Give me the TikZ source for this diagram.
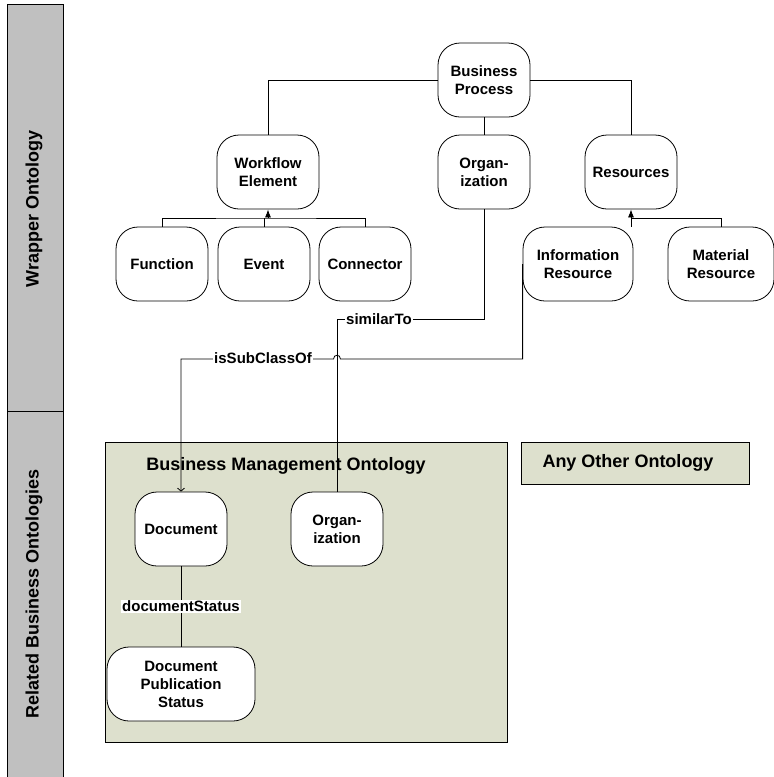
\documentclass[tikz,border=0pt]{standalone}
\usepackage{fontspec}
\setmainfont{Liberation Sans}
\usetikzlibrary{arrows.meta}

\definecolor{bandgray}{RGB}{192,192,192}
\definecolor{ontogreen}{RGB}{221,224,205}

\tikzset{
  concept/.style={draw, fill=white, rounded corners=22pt, minimum width=92pt,
    minimum height=74pt, align=center, inner sep=2pt,
    font=\fontsize{15}{18}\selectfont\bfseries},
  rel/.style={fill=white, inner sep=1pt, font=\fontsize{15}{18}\selectfont\bfseries},
  title/.style={font=\fontsize{18}{21}\selectfont\bfseries},
  isa/.style={-{Latex[length=8pt,width=6pt]}},
  uses/.style={-{Straight Barb[length=3pt,width=7pt]}},
}

\begin{document}
\begin{tikzpicture}[x=1pt, y=-1pt, line width=0.8pt]
    \useasboundingbox (0,0) rectangle (774,777);

    % Side bands
    \draw[fill=bandgray] (7,4) rectangle (63,790);
    \draw (7,411) -- (63,411);
    \node[title, rotate=90] (wraplbl) at (34,209) {Wrapper Ontology};
    \node[title, rotate=90] (rellbl) at (34,594) {Related Business Ontologies};

    % Ontology boxes
    \draw[fill=ontogreen] (105,442) rectangle (507,742);
    \node[title] (bmotitle) at (286,466) {Business Management Ontology};
    \draw[fill=ontogreen] (521,442) rectangle (749,484);
    \node[title] (anytitle) at (628,463) {Any Other Ontology};

    % Wrapper concepts
    \node[concept] (bp) at (484,80) {Business\\Process};
    \node[concept, minimum width=102pt] (wfe) at (268,172) {Workflow\\Element};
    \node[concept] (org) at (484,172) {Organ-\\ization};
    \node[concept] (res) at (631,172) {Resources};
    \node[concept] (fun) at (162,264) {Function};
    \node[concept] (evt) at (264,264) {Event};
    \node[concept] (con) at (365,264) {Connector};
    \node[concept, minimum width=110pt] (infres) at (578,264) {Information\\Resource};
    \node[concept, minimum width=106pt] (matres) at (721,264) {Material\\Resource};

    % Business management concepts
    \node[concept] (doc) at (181,529) {Document};
    \node[concept] (borg) at (337,529) {Organ-\\ization};
    \node[concept, minimum width=148pt] (dps) at (181,684) {Document\\Publication\\Status};

    % Business Process links
    \draw (bp.west) -| (wfe.north);
    \draw (bp.east) -| (res.north);
    \draw (bp.south) -- (org.north);

    % Workflow Element subclasses
    \coordinate (wfebus) at (268,218);
    \draw (fun.north) |- (wfebus) -| (con.north);
    \draw (evt.north) -- (evt.north |- wfebus);
    \draw[isa] (wfebus) -- (wfe.south);

    % Resources subclasses
    \coordinate (resbus) at (631,218);
    \draw (infres.north -| resbus) -- (resbus) -| (matres.north);
    \draw[isa] (resbus) -- (res.south);

    % similarTo
    \coordinate (simbend) at (484,319);
    \draw (org.south) -- (simbend) -| (borg.north);
    \node[rel] (simlbl) at (379,319) {similarTo};

    % isSubClassOf, hopping over similarTo
    \coordinate (hopright) at (340.5,359);
    \coordinate (hopleft) at (333.5,359);
    \draw[uses] (infres.west) |- (hopright)
        .. controls (340.5,354) and (333.5,354) .. (hopleft)
        -- (doc.north |- hopleft) -- (doc.north);
    \node[rel] (sublbl) at (263,358) {isSubClassOf};

    % documentStatus
    \draw (doc.south) -- (dps.north);
    \node[rel] (statlbl) at (181,606) {documentStatus};
\end{tikzpicture}
\end{document}
